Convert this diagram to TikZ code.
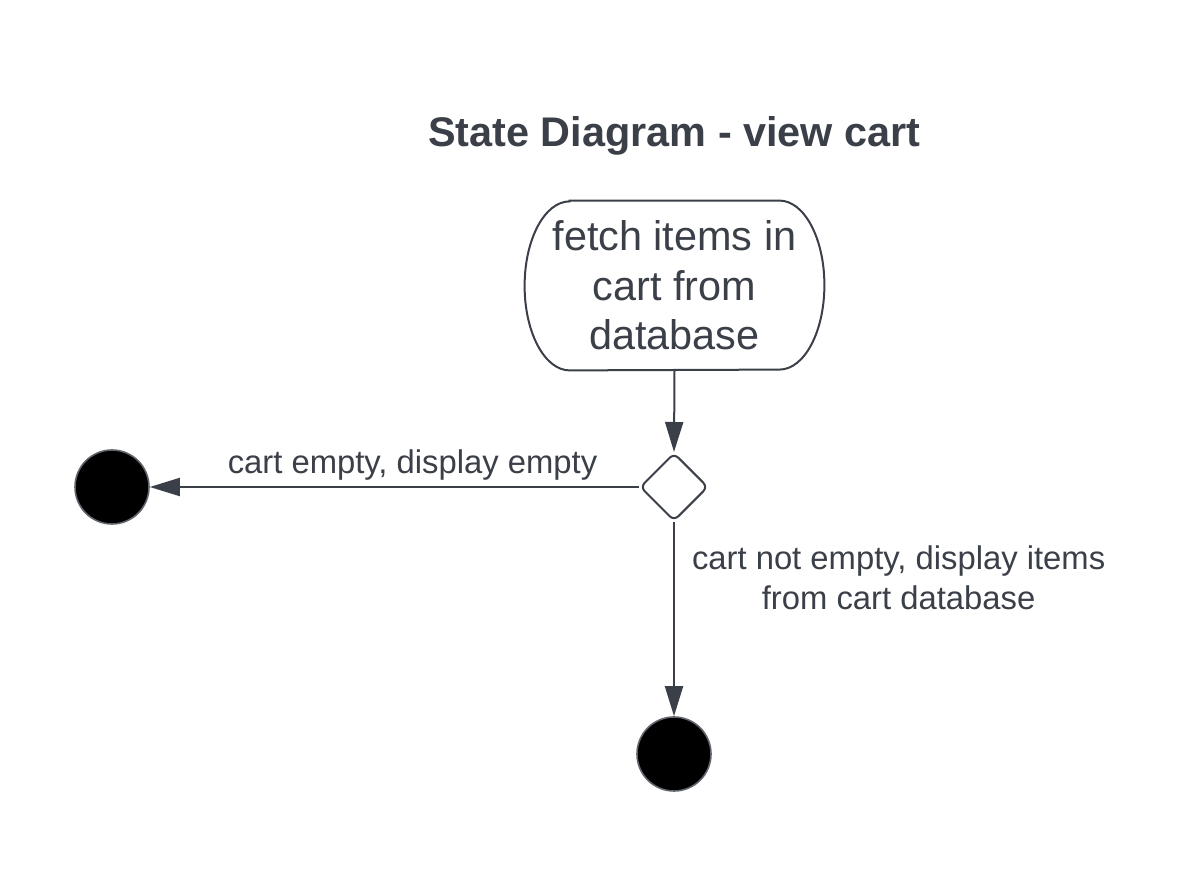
\documentclass[tikz,border=0pt]{standalone}
\usepackage{fontspec}
\setmainfont{Liberation Sans}
\usetikzlibrary{arrows.meta,shapes.geometric}
\definecolor{ink}{HTML}{3A3F48}
\begin{document}
\begin{tikzpicture}[x=0.5pt,y=0.5pt,
    line/.style={draw=ink,line width=1pt},
    flow/.style={line,-{Triangle[length=15pt,width=9pt]}},
    big/.style={font=\fontsize{20.7}{24.8}\selectfont},
    small/.style={font=\fontsize{16.4}{19.8}\selectfont},
    statebox/.style={big,text=ink,align=center,inner sep=0pt,minimum width=149.5pt,minimum height=84.5pt},
    choice/.style={diamond,line,fill=white,rounded corners=3pt,minimum width=34pt,minimum height=34pt,inner sep=0pt},
    final/.style={circle,fill=black,draw=ink!80,line width=0.8pt,minimum size=37pt,inner sep=0pt},
    guard/.style={small,text=ink,align=center,inner sep=0pt}]
    %\draw[help lines] (0,0) grid[step=100] (1200,868);
    \useasboundingbox (0,0) rectangle (1200,868);
    \node[big,text=ink,anchor=base,font=\fontsize{20.7}{24.8}\selectfont\bfseries] (title) at (674.5,721) {State Diagram - view cart};
    \node[statebox] (fetch) at (674.5,582.5) {fetch items in\\cart from\\database};
    \draw[line] ([xshift=22.5pt]fetch.north west) -- ([xshift=-22.5pt]fetch.north east)
        arc[start angle=90,end angle=-90,x radius=22.5pt,y radius=42.25pt]
        -- ([xshift=22.5pt]fetch.south west)
        arc[start angle=270,end angle=90,x radius=22.5pt,y radius=42.25pt] -- cycle;
    \node[choice] (check) at (674,381) {};
    \node[final] (endl) at (112,381) {};
    \node[final] (endb) at (674,114) {};
    \draw[flow] (fetch.south) -- (check.north);
    \draw[flow] (check.west) -- node[guard,pos=0.463,above=3pt] {cart empty, display empty} (endl.east);
    \draw[flow] (check.south) -- node[guard,pos=0.286,anchor=west,xshift=8.5pt] {cart not empty, display items\\from cart database} (endb.north);
\end{tikzpicture}
\end{document}
